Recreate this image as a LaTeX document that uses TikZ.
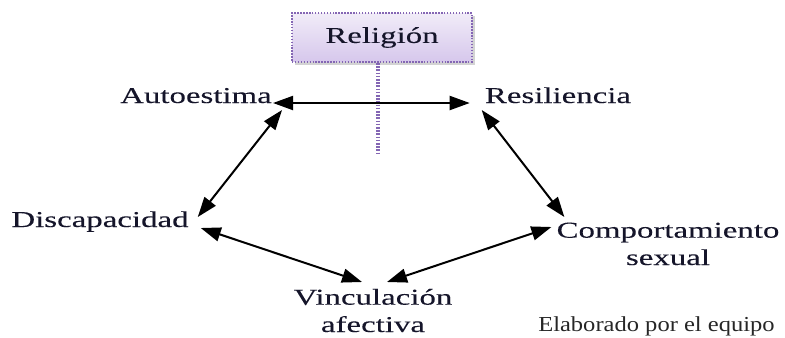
\documentclass[tikz,border=0pt]{standalone}
\usepackage{fontspec}
\usetikzlibrary{arrows.meta,calc,shadows}
\newfontfamily\lblfont[FakeStretch=1.45,FakeBold=0.1]{Liberation Serif}
\newfontfamily\notefont[FakeStretch=1.15]{Liberation Serif}
\definecolor{relfill}{HTML}{D6C7EC}
\definecolor{reltop}{HTML}{F1ECF8}
\definecolor{reldot}{HTML}{8466B4}
\definecolor{ink}{HTML}{15152A}
\begin{document}
\begin{tikzpicture}[x=0.75pt,y=-0.75pt,
    lbl/.style={inner sep=0pt,anchor=base,text=ink,align=center,
      font=\lblfont\fontsize{17}{20.5}\selectfont},
    link/.style={{Triangle[length=15pt,width=10.5pt]}-{Triangle[length=15pt,width=10.5pt]},line width=1.5pt},
    relbox/.style={draw=reldot,line width=1.6pt,dash pattern=on 1.1pt off 1.1pt,
      top color=reltop,bottom color=relfill,minimum width=135pt,minimum height=36.5pt,
      drop shadow={shadow xshift=2pt,shadow yshift=-2pt,opacity=.35},
      text=ink,font=\lblfont\fontsize{17}{20.5}\selectfont}]
  \useasboundingbox (0,0) rectangle (785,337);
  \clip (0,0) rectangle (785,337);
  % religion box and its dotted stem
  \node[relbox] (rel) at (382,37.5) {Religión};
  \coordinate (relEnd) at (378,153);
  \draw[reldot,line width=2.4pt,dash pattern=on 1.2pt off 1.2pt] ($(rel.south)+(-4,0)$) -- (relEnd);
  % factors (base = last line)
  \node[lbl] (auto) at (196,103) {Autoestima};
  \node[lbl] (resi) at (558,103) {Resiliencia};
  \node[lbl] (disc) at (100,227) {Discapacidad};
  \node[lbl] (comp) at (668,265) {Comportamiento\\sexual};
  \node[lbl] (vinc) at (373,332) {Vinculación\\afectiva};
  % links
  \draw[link] ($(auto.base east)+(1,0)$) -- ($(resi.base west)+(-15,0)$);
  \draw[link] ($(auto.base east)+(10,7)$) -- ($(disc.base east)+(9,-10)$);
  \draw[link] ($(resi.base west)+(-3,7)$) -- ($(comp.base west)+(8,-48)$);
  \draw[link] ($(disc.base east)+(12,1)$) -- ($(vinc.base)+(-11,-50)$);
  \draw[link] ($(vinc.base)+(14,-50)$) -- ($(comp.base west)+(-5,-38)$);
  % source note
  \node[inner sep=0pt,anchor=base west,text=black!85,font=\notefont\fontsize{16}{19}\selectfont]
    (note) at (538,331) {Elaborado por el equipo};
\end{tikzpicture}
\end{document}
